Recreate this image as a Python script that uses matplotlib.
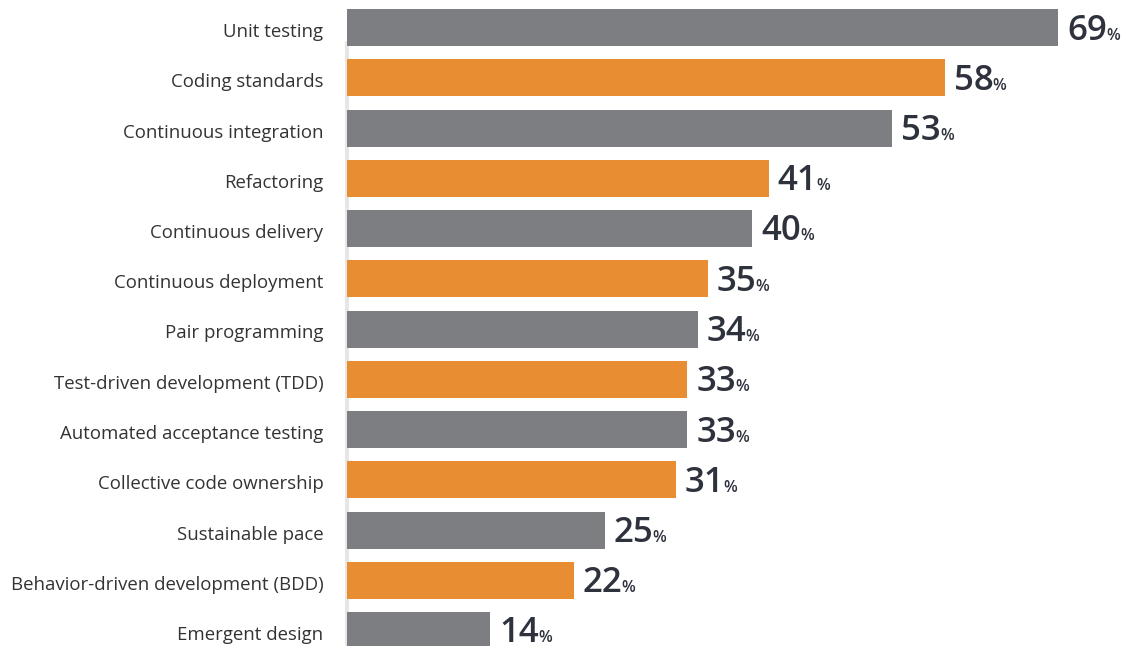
import matplotlib
matplotlib.use("Agg")
import matplotlib.pyplot as plt
from matplotlib.transforms import ScaledTranslation

# ----------------------------------------------------------------------
# Data
# ----------------------------------------------------------------------
practices = [
    "Unit testing",
    "Coding standards",
    "Continuous integration",
    "Refactoring",
    "Continuous delivery",
    "Continuous deployment",
    "Pair programming",
    "Test-driven development (TDD)",
    "Automated acceptance testing",
    "Collective code ownership",
    "Sustainable pace",
    "Behavior-driven development (BDD)",
    "Emergent design",
]
# bar lengths as drawn in the reference (a couple differ from the printed label)
bar_lengths = [69, 58, 52.9, 40.9, 39.3, 35, 34, 33, 33, 31.9, 25, 22, 13.9]
# numbers printed next to the bars
value_labels = ["69", "58", "53", "41", "40", "35", "34", "33", "33", "31", "25", "22", "14"]

GRAY = "#7d7e82"
ORANGE = "#e88d31"
TEXT = "#333333"
VALUE = "#2e323c"

plt.rcParams["font.family"] = ["Open Sans", "DejaVu Sans"]

W, H = 1125, 646
fig = plt.figure(figsize=(W / 100, H / 100), dpi=100)

# axes start where the bars start (x=347px) and fill the full height
left_px = 347
ax = fig.add_axes([left_px / W, 0, 1 - left_px / W, 1])

px_per_pct = 10.31
pitch = 50.25
first_center = 27.5

colors = [GRAY if i % 2 == 0 else ORANGE for i in range(len(practices))]
ypos = list(range(len(practices)))
ax.barh(ypos, bar_lengths, height=37 / pitch, color=colors, zorder=3)

ax.set_xlim(0, (W - left_px) / px_per_pct)
ax.set_ylim((H - first_center) / pitch, -first_center / pitch)

for s in ["top", "right", "bottom"]:
    ax.spines[s].set_visible(False)
ax.spines["left"].set_color("#e6e6e6")
ax.spines["left"].set_linewidth(2.9)
ax.spines["left"].set_bounds((43 - first_center) / pitch, (H - first_center) / pitch)
ax.spines["left"].set_zorder(1)

ax.set_xticks([])
ax.set_yticks(ypos)
ax.set_yticklabels(practices, fontsize=13.4, color=TEXT)
ax.tick_params(axis="y", length=0, pad=17)
# labels sit a few pixels below the bar centre in the reference
nudge = ScaledTranslation(0, -2.5 / 100, fig.dpi_scale_trans)
for lbl in ax.get_yticklabels():
    lbl.set_transform(lbl.get_transform() + nudge)

# value labels: big number + small percent sign
fig.canvas.draw()
renderer = fig.canvas.get_renderer()
inv = ax.transData.inverted()
for i, (v, lab) in enumerate(zip(bar_lengths, value_labels)):
    x0 = v + 9 / px_per_pct
    yb = i + 12 / pitch
    t = ax.text(x0, yb, lab, fontsize=25, fontweight="semibold",
                color=VALUE, va="baseline", ha="left")
    bb = t.get_window_extent(renderer)
    x1 = inv.transform((bb.x1, 0))[0]
    ax.text(x1 - 1 / px_per_pct, yb, "%", fontsize=11.5, fontweight="semibold",
            color=VALUE, va="baseline", ha="left")

fig.savefig("out.png", dpi=100)
